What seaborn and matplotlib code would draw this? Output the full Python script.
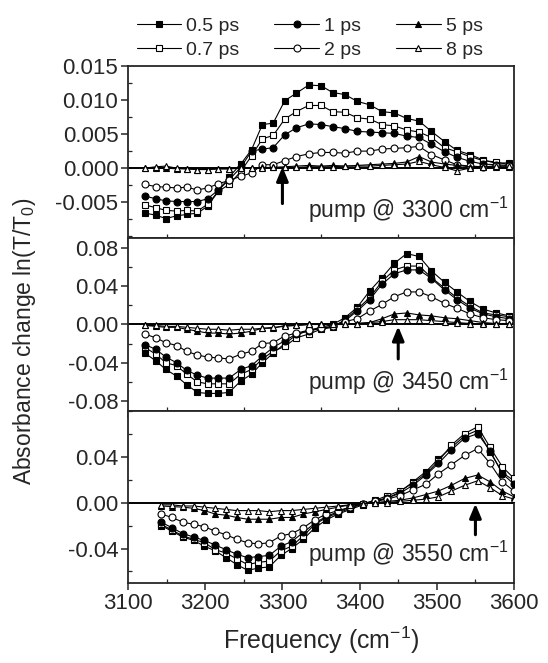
import matplotlib
matplotlib.use("Agg")
import matplotlib.pyplot as plt
from matplotlib.ticker import MultipleLocator, FixedLocator
import seaborn as sns

# frequency grids (cm-1)
freq_a = [3122, 3136, 3149, 3163, 3176, 3190, 3203, 3217, 3231, 3246, 3260, 3274, 3288, 3303, 3318, 3334,
          3350, 3365, 3381, 3397, 3413, 3429, 3445, 3461, 3477, 3493, 3510, 3526, 3543, 3560, 3577, 3594]
freq_b = [3143, 3157, 3171, 3185, 3199, 3213, 3227, 3241, 3255, 3269, 3283, 3298, 3312, 3327, 3342, 3357,
          3372, 3388, 3404, 3420, 3436, 3452, 3469, 3486, 3502, 3519, 3536, 3553, 3569, 3585, 3600]

delays = ["0.5 ps", "0.7 ps", "1 ps", "2 ps", "5 ps", "8 ps"]

# pump @ 3300
p1_05 = [-0.0066, -0.0069, -0.0074, -0.0070, -0.0068, -0.0066, -0.0056, -0.0034, -0.0013, 0.0006, 0.0027, 0.0064, 0.0066, 0.0099, 0.0110, 0.0122,
         0.0121, 0.0111, 0.0108, 0.0098, 0.0093, 0.0083, 0.0081, 0.0073, 0.0069, 0.0054, 0.0039, 0.0026, 0.0020, 0.0012, 0.0007, 0.0008]
p1_07 = [-0.0054, -0.0058, -0.0062, -0.0063, -0.0062, -0.0063, -0.0053, -0.0034, -0.0024, -0.0005, 0.0018, 0.0043, 0.0048, 0.0072, 0.0083, 0.0092,
         0.0092, 0.0083, 0.0082, 0.0074, 0.0072, 0.0064, 0.0062, 0.0056, 0.0053, 0.0045, 0.0030, 0.0024, 0.0017, 0.0011, 0.0009, 0.0005]
p1_1 = [-0.0041, -0.0045, -0.0048, -0.0049, -0.0049, -0.0049, -0.0045, -0.0032, -0.0017, 0.0001, 0.0025, 0.0028, 0.0030, 0.0049, 0.0059, 0.0065,
        0.0064, 0.0061, 0.0058, 0.0054, 0.0053, 0.0052, 0.0051, 0.0047, 0.0045, 0.0035, 0.0024, 0.0016, 0.0010, 0.0006, 0.0005, 0.0004]
p1_2 = [-0.0024, -0.0027, -0.0028, -0.0029, -0.0028, -0.0032, -0.0029, -0.0023, -0.0018, -0.0012, -0.0007, 0.0005, 0.0005, 0.0011, 0.0017, 0.0021,
        0.0023, 0.0023, 0.0022, 0.0025, 0.0025, 0.0028, 0.0029, 0.0030, 0.0032, 0.0020, 0.0012, 0.0005, 0.0003, 0.0002, 0.0003, 0.0003]
p1_5 = [0.0000, 0.0000, 0.0000, -0.0001, -0.0001, -0.0002, -0.0002, -0.0001, -0.0001, 0.0000, 0.0000, 0.0001, 0.0001, 0.0002, 0.0003, 0.0004,
        0.0003, 0.0004, 0.0003, 0.0004, 0.0005, 0.0006, 0.0007, 0.0009, 0.0017, 0.0009, 0.0006, 0.0004, 0.0002, 0.0002, 0.0001, 0.0001]
p1_8 = [0.0000, 0.0002, 0.0003, 0.0000, -0.0001, -0.0002, -0.0002, -0.0001, -0.0001, 0.0000, 0.0000, 0.0000, 0.0001, 0.0001, 0.0001, 0.0002,
        0.0002, 0.0002, 0.0003, 0.0003, 0.0003, 0.0004, 0.0005, 0.0006, 0.0010, 0.0005, 0.0001, -0.0004, 0.0000, 0.0002, 0.0003, 0.0003]

# pump @ 3450
p2_05 = [-0.030, -0.038, -0.047, -0.054, -0.063, -0.071, -0.072, -0.072, -0.071, -0.059, -0.052, -0.040, -0.030, -0.020, -0.011, -0.006,
         -0.003, 0.000, 0.007, 0.018, 0.035, 0.049, 0.064, 0.074, 0.071, 0.056, 0.044, 0.034, 0.024, 0.016, 0.012, 0.009]
p2_07 = [-0.024, -0.031, -0.040, -0.043, -0.052, -0.060, -0.062, -0.062, -0.062, -0.052, -0.047, -0.036, -0.028, -0.023, -0.014, -0.010,
         -0.005, -0.003, 0.005, 0.016, 0.028, 0.045, 0.057, 0.061, 0.061, 0.049, 0.038, 0.028, 0.019, 0.012, 0.010, 0.008]
p2_1 = [-0.021, -0.026, -0.034, -0.040, -0.048, -0.053, -0.056, -0.056, -0.056, -0.047, -0.043, -0.033, -0.024, -0.017, -0.010, -0.007,
        -0.004, -0.002, 0.004, 0.014, 0.026, 0.042, 0.053, 0.057, 0.057, 0.048, 0.036, 0.026, 0.017, 0.011, 0.008, 0.006]
p2_2 = [-0.010, -0.014, -0.019, -0.022, -0.028, -0.032, -0.034, -0.035, -0.036, -0.031, -0.028, -0.020, -0.019, -0.012, -0.009, -0.006,
        -0.004, -0.002, 0.003, 0.006, 0.014, 0.021, 0.029, 0.034, 0.034, 0.029, 0.022, 0.017, 0.011, 0.007, 0.005, 0.004]
p2_5 = [-0.001, -0.002, -0.003, -0.003, -0.005, -0.007, -0.009, -0.009, -0.010, -0.009, -0.007, -0.004, -0.004, -0.001, -0.001, 0.000,
        0.000, 0.000, 0.000, 0.001, 0.002, 0.006, 0.011, 0.012, 0.010, 0.009, 0.007, 0.006, 0.004, 0.002, 0.001, 0.001]
p2_8 = [-0.001, -0.001, -0.002, -0.002, -0.003, -0.004, -0.005, -0.005, -0.006, -0.005, -0.005, -0.004, -0.003, -0.002, -0.001, 0.000,
        0.000, 0.000, 0.000, 0.001, 0.002, 0.003, 0.005, 0.005, 0.005, 0.004, 0.003, 0.002, 0.001, 0.001, 0.000, 0.000]

# pump @ 3550
p3_05 = [-0.020, -0.025, -0.030, -0.033, -0.038, -0.042, -0.048, -0.054, -0.059, -0.057, -0.056, -0.046, -0.040, -0.032, -0.022, -0.015,
         -0.010, -0.006, -0.002, 0.0015, 0.004, 0.009, 0.018, 0.027, 0.038, 0.048, 0.058, 0.063, 0.044, 0.026, 0.019]
p3_07 = [-0.019, -0.024, -0.029, -0.032, -0.035, -0.041, -0.044, -0.049, -0.054, -0.052, -0.051, -0.042, -0.038, -0.029, -0.019, -0.013,
         -0.009, -0.005, -0.001, 0.002, 0.006, 0.010, 0.017, 0.025, 0.036, 0.050, 0.060, 0.066, 0.048, 0.031, 0.021]
p3_1 = [-0.017, -0.022, -0.027, -0.030, -0.033, -0.037, -0.041, -0.045, -0.048, -0.047, -0.046, -0.038, -0.034, -0.026, -0.018, -0.012,
        -0.008, -0.004, -0.001, 0.001, 0.004, 0.008, 0.015, 0.024, 0.034, 0.046, 0.056, 0.060, 0.045, 0.025, 0.016]
p3_2 = [-0.010, -0.013, -0.017, -0.019, -0.021, -0.025, -0.028, -0.032, -0.035, -0.036, -0.035, -0.029, -0.027, -0.022, -0.015, -0.010,
        -0.007, -0.004, -0.001, 0.001, 0.003, 0.006, 0.011, 0.016, 0.025, 0.033, 0.041, 0.047, 0.034, 0.018, 0.010]
p3_5 = [-0.003, -0.0035, -0.004, -0.005, -0.007, -0.010, -0.011, -0.013, -0.0145, -0.0145, -0.0145, -0.013, -0.013, -0.010, -0.008, -0.006,
        -0.004, -0.002, -0.001, 0.000, 0.001, 0.002, 0.004, 0.007, 0.010, 0.015, 0.021, 0.024, 0.018, 0.010, 0.005]
p3_8 = [-0.002, -0.002, -0.003, -0.003, -0.004, -0.005, -0.006, -0.007, -0.007, -0.007, -0.008, -0.007, -0.007, -0.006, -0.005, -0.004,
        -0.003, -0.002, -0.001, 0.000, 0.000, 0.001, 0.002, 0.003, 0.005, 0.010, 0.015, 0.019, 0.013, 0.006, 0.003]

panels = [
    (freq_a, [p1_05, p1_07, p1_1, p1_2, p1_5, p1_8], 3300, (-0.0103, 0.015), 0.0025,
     [0.015, 0.010, 0.005, 0.000, -0.005], "{:.3f}", (-0.0052, 0.0002)),
    (freq_a, [p2_05, p2_07, p2_1, p2_2, p2_5, p2_8], 3450, (-0.09, 0.09), 0.02,
     [0.08, 0.04, 0.00, -0.04, -0.08], "{:.2f}", (-0.036, -0.002)),
    (freq_b, [p3_05, p3_07, p3_1, p3_2, p3_5, p3_8], 3550, (-0.07, 0.08), 0.02,
     [0.04, 0.00, -0.04], "{:.2f}", (-0.028, -0.001)),
]

markers = ["s", "s", "o", "o", "^", "^"]
filled = [True, False, True, False, True, False]

sns.set_style("ticks")
plt.rcParams["font.family"] = ["Liberation Sans", "DejaVu Sans"]
plt.rcParams["mathtext.fontset"] = "custom"
plt.rcParams["mathtext.rm"] = "Liberation Sans"
plt.rcParams["mathtext.it"] = "Liberation Sans:italic"

fig = plt.figure(figsize=(5.48, 6.63), dpi=100)
left, right = 0.2336, 0.938
top, bottom = 0.9005, 0.1207
h = (top - bottom) / 3

axes = []
for i, (fr, series, pump, ylim, minor, labs, fmt, arr) in enumerate(panels):
    ax = fig.add_axes([left, top - (i + 1) * h, right - left, h])
    axes.append(ax)
    ax.axhline(0, color="black", lw=1.4, zorder=1)
    for name, vals, m, f in zip(delays, series, markers, filled):
        sns.lineplot(x=fr, y=vals, ax=ax, color="black", lw=0.8, marker=m, markersize=5.0,
                     markerfacecolor="black" if f else "white", markeredgecolor="black",
                     markeredgewidth=0.8, label=name, legend=False, zorder=3)
    ax.set_xlim(3100, 3600)
    ax.set_ylim(*ylim)
    ax.xaxis.set_major_locator(MultipleLocator(100))
    ax.xaxis.set_minor_locator(MultipleLocator(50))
    ax.yaxis.set_major_locator(FixedLocator(labs))
    ax.yaxis.set_minor_locator(MultipleLocator(minor))
    ax.set_yticklabels([fmt.format(v) for v in labs])
    ax.tick_params(axis="both", which="major", direction="out", length=5, width=1.1, labelsize=16, pad=2)
    ax.tick_params(axis="both", which="minor", direction="in", length=3, width=0.9)
    for s in ax.spines.values():
        s.set_linewidth(1.3)
    if i < 2:
        ax.tick_params(axis="x", labelbottom=False)
    ax.set_ylabel("")
    ax.set_xlabel("")
    ax.annotate("", xy=(pump, arr[1]), xytext=(pump, arr[0]),
                arrowprops=dict(arrowstyle="-|>,head_length=0.6,head_width=0.25", color="black",
                                lw=2.2, mutation_scale=14, shrinkA=0, shrinkB=0))
    ax.text(0.985, 0.08, "pump @ %d cm$^{-1}$" % pump, transform=ax.transAxes,
            ha="right", va="bottom", fontsize=16.5)

axes[2].set_xlabel("Frequency (cm$^{-1}$)", fontsize=18, labelpad=8)
fig.text(0.045, 0.485, "Absorbance change ln(T/T$_0$)", rotation=90,
         ha="center", va="center", fontsize=16.5)

handles, labels = axes[0].get_legend_handles_labels()
fig.legend(handles, labels, ncol=3, loc="upper center", bbox_to_anchor=(0.565, 1.0),
           frameon=False, fontsize=14, handlelength=2.3, handletextpad=0.25,
           columnspacing=1.8, labelspacing=0.3, borderpad=0.4)

fig.savefig("out.png", dpi=100)
